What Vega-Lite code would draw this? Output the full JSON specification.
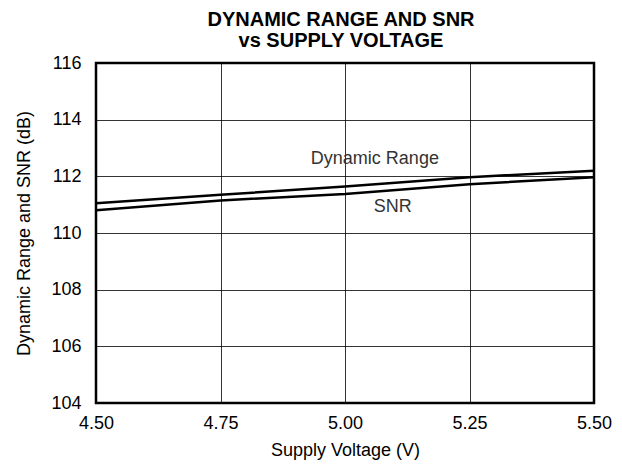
{
  "$schema": "https://vega.github.io/schema/vega-lite/v6.json",
  "width": 498,
  "height": 340,
  "autosize": "none",
  "padding": {"left": 96, "top": 63, "right": 28, "bottom": 65},
  "background": "white",
  "title": {
    "text": ["DYNAMIC RANGE AND SNR", "vs SUPPLY VOLTAGE"],
    "font": "Liberation Sans",
    "fontSize": 20,
    "fontWeight": "bold",
    "color": "black",
    "lineHeight": 21,
    "offset": 3,
    "anchor": "middle",
    "dx": -4
  },
  "config": {
    "view": {"stroke": "black", "strokeWidth": 2.5},
    "axis": {
      "labelFont": "Liberation Sans",
      "titleFont": "Liberation Sans",
      "labelFontSize": 18,
      "titleFontSize": 18,
      "titleFontWeight": "normal",
      "labelColor": "black",
      "titleColor": "black",
      "gridColor": "black",
      "gridWidth": 0.8,
      "gridOpacity": 1,
      "domain": false,
      "ticks": false
    }
  },
  "datasets": {
    "curves": [
      {"v": 4.5, "db": 111.05, "series": "Dynamic Range"},
      {"v": 4.75, "db": 111.35, "series": "Dynamic Range"},
      {"v": 5.0, "db": 111.64, "series": "Dynamic Range"},
      {"v": 5.25, "db": 111.97, "series": "Dynamic Range"},
      {"v": 5.5, "db": 112.2, "series": "Dynamic Range"},
      {"v": 4.5, "db": 110.8, "series": "SNR"},
      {"v": 4.75, "db": 111.15, "series": "SNR"},
      {"v": 5.0, "db": 111.38, "series": "SNR"},
      {"v": 5.25, "db": 111.72, "series": "SNR"},
      {"v": 5.5, "db": 111.97, "series": "SNR"}
    ],
    "labels": [
      {"v": 5.06, "db": 112.6, "text": "Dynamic Range"},
      {"v": 5.096, "db": 110.92, "text": "SNR"}
    ]
  },
  "layer": [
    {
      "data": {"name": "curves"},
      "mark": {"type": "line", "color": "black", "strokeWidth": 2.5, "clip": true},
      "encoding": {
        "x": {
          "field": "v", "type": "quantitative",
          "scale": {"domain": [4.5, 5.5], "nice": false, "zero": false},
          "axis": {"values": [4.5, 4.75, 5.0, 5.25, 5.5], "format": ".2f", "title": "Supply Voltage (V)", "labelPadding": 11, "labelFlush": false, "titlePadding": 9}
        },
        "y": {
          "field": "db", "type": "quantitative",
          "scale": {"domain": [104, 116], "nice": false, "zero": false},
          "axis": {"values": [104, 106, 108, 110, 112, 114, 116], "title": "Dynamic Range and SNR (dB)", "labelPadding": 15, "labelFlush": false, "titlePadding": 17}
        },
        "detail": {"field": "series"}
      }
    },
    {
      "data": {"name": "labels"},
      "mark": {"type": "text", "font": "Liberation Sans", "fontSize": 18, "color": "#333", "align": "center", "baseline": "middle"},
      "encoding": {
        "x": {"field": "v", "type": "quantitative"},
        "y": {"field": "db", "type": "quantitative"},
        "text": {"field": "text"}
      }
    }
  ]
}
